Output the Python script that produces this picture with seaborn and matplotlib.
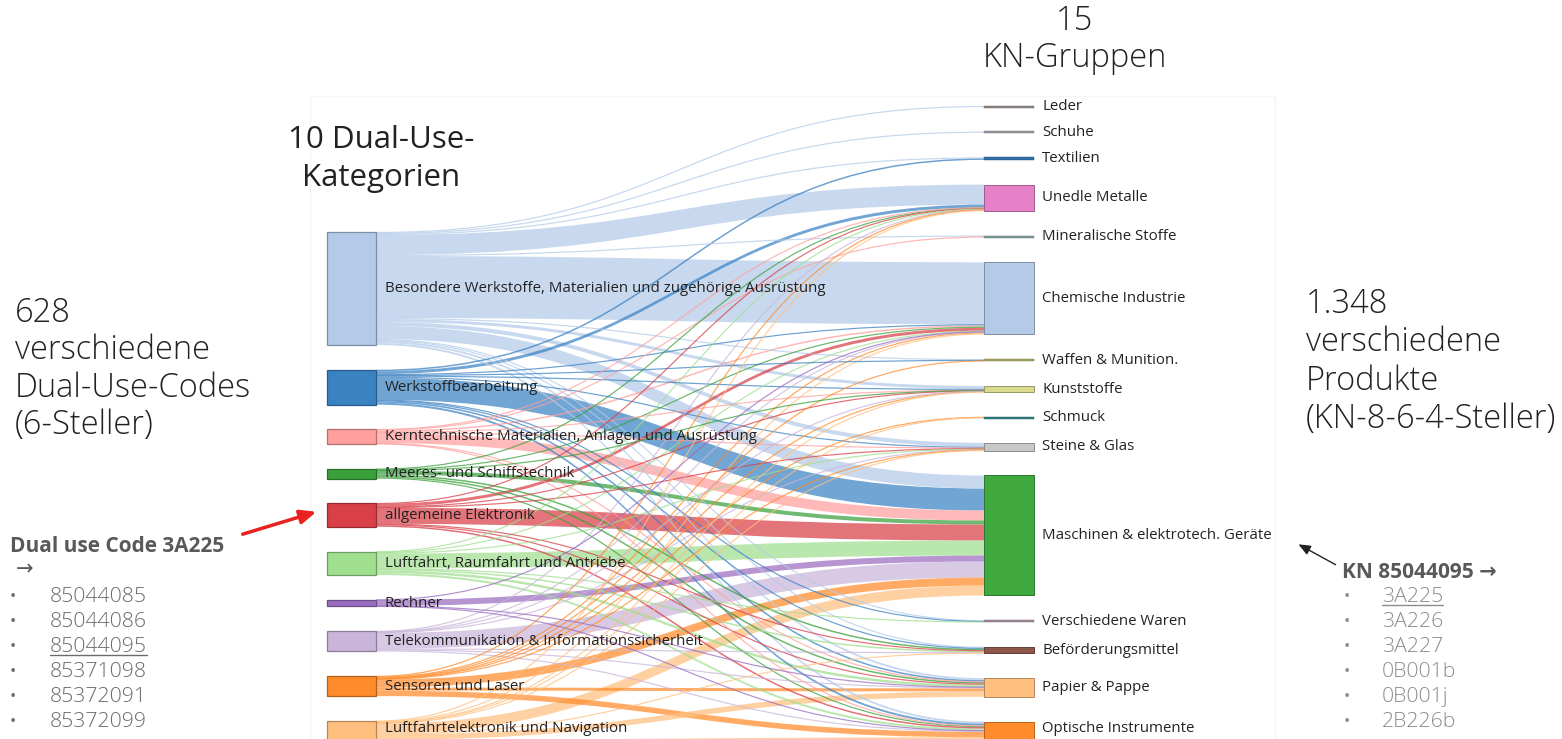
import numpy as np
import matplotlib
matplotlib.use("Agg")
import matplotlib.pyplot as plt
from matplotlib.path import Path
from matplotlib.patches import PathPatch, Rectangle
import seaborn as sns

# ---------------- data ----------------
sources = ["Besondere Werkstoffe, Materialien und zugehörige Ausrüstung",
           "Werkstoffbearbeitung",
           "Kerntechnische Materialien, Anlagen und Ausrüstung",
           "Meeres- und Schiffstechnik",
           "allgemeine Elektronik",
           "Luftfahrt, Raumfahrt und Antriebe",
           "Rechner",
           "Telekommunikation & Informationssicherheit",
           "Sensoren und Laser",
           "Luftfahrtelektronik und Navigation"]

targets = ["Leder", "Schuhe", "Textilien", "Unedle Metalle", "Mineralische Stoffe",
           "Chemische Industrie", "Waffen & Munition.", "Kunststoffe", "Schmuck",
           "Steine & Glas", "Maschinen & elektrotech. Geräte", "Verschiedene Waren",
           "Beförderungsmittel", "Papier & Pappe", "Optische Instrumente"]

# rows = sources, columns = targets (same order as above)
flow_besondere   = [1, 1, 1, 20, 1, 62, 1, 3, 0, 4, 13, 1, 1, 2, 2]
flow_werkstoff   = [0, 0, 1.5, 3, 0, 1, 0.5, 1, 0, 1, 22, 0.5, 1, 1.5, 2]
flow_kern        = [0, 0, 0, 0.25, 1, 1.5, 0, 0.5, 0, 0.5, 10, 0, 0, 0.5, 0.5]
flow_meeres      = [0, 0, 0, 0.5, 0, 1, 0, 0.25, 0, 0, 4, 0, 1.5, 1.5, 1]
flow_elektronik  = [0, 0, 0, 0.5, 0, 3, 0, 0.5, 0, 0.5, 16, 0, 0.5, 1, 1.5]
flow_luftfahrt   = [0, 0, 0, 0.5, 0, 1, 0, 0, 0, 0.5, 15, 0.5, 1.5, 2.5, 2]
flow_rechner     = [0, 0, 0, 0, 0, 0.25, 0, 0, 0, 0, 6, 0, 0, 0.25, 0.25]
flow_telekom     = [0, 0, 0, 0.5, 0, 0.5, 0, 0.25, 0, 0.5, 16, 0, 0.5, 1, 1]
flow_sensoren    = [0, 0, 0, 0.5, 0, 1, 0.5, 0.5, 0.5, 0.5, 8, 0, 0, 3, 5.5]
flow_avionik     = [0, 0, 0, 0.5, 0, 1, 0, 0.5, 0.5, 0.5, 10, 0, 0.5, 5.5, 6]

source_colors = ["#b3cbe9", "#3b82c3", "#ff9f9e", "#3aa03a", "#d83f47",
                 "#9fdf8e", "#9a6cc0", "#c9b5da", "#ff8b2a", "#ffc07f"]
target_colors = ["#8f8585", "#999999", "#2f6ea6", "#e680c8", "#7f9c9c",
                 "#b3cbe9", "#a4a45c", "#dadb8f", "#2c7f80", "#c8c8c8",
                 "#3fa83f", "#a08a9a", "#8c564b", "#ffc07f", "#ff8b2a"]

left_codes = ["85044085", "85044086", "85044095", "85371098", "85372091", "85372099"]
right_codes = ["3A225", "3A226", "3A227", "0B001b", "0B001j", "2B226b"]

# ---------------- setup ----------------
sns.set_theme(style="white")
plt.rcParams["font.family"] = ["Open Sans", "DejaVu Sans"]

flows = np.array([flow_besondere, flow_werkstoff, flow_kern, flow_meeres,
                  flow_elektronik, flow_luftfahrt, flow_rechner, flow_telekom,
                  flow_sensoren, flow_avionik], dtype=float)

fig = plt.figure(figsize=(15.62, 7.39), dpi=100)
ax = fig.add_axes([0, 0, 1, 1])
ax.set_xlim(0, 1562)
ax.set_ylim(739, 0)
ax.axis("off")

# faint screenshot frame
ax.add_patch(Rectangle((310, 96), 965, 700, fill=False, ec="#f6f6f6", lw=1, zorder=0))

GAP = 24.7
LEFT_TOP = 232
RIGHT_TOP = 106
XL0, XL1 = 327, 376
XR0, XR1 = 984, 1034
LABEL_MAX_Y = 729

src_tot = flows.sum(axis=1)
tgt_tot = flows.sum(axis=0)


def layout(tot, top):
    tops = []
    y = top
    for v in tot:
        tops.append(y)
        y += v + GAP
    return np.array(tops)


src_top = layout(src_tot, LEFT_TOP)
tgt_top = layout(tgt_tot, RIGHT_TOP)

# positions of each link inside nodes
src_off = src_top.copy()
sy = np.zeros_like(flows)
for i in range(len(sources)):
    for j in range(len(targets)):
        sy[i, j] = src_off[i]
        src_off[i] += flows[i, j]
tgt_off = tgt_top.copy()
ty = np.zeros_like(flows)
for j in range(len(targets)):
    for i in range(len(sources)):
        ty[i, j] = tgt_off[j]
        tgt_off[j] += flows[i, j]

links = [(flows[i, j], i, j) for i in range(len(sources)) for j in range(len(targets)) if flows[i, j] > 0]
links.sort(key=lambda t: -t[0])

xm = (XL1 + XR0) / 2
for z, (v, i, j) in enumerate(links):
    s0, t0 = sy[i, j], ty[i, j]
    col = source_colors[i]
    if v >= 2:
        s1, t1 = s0 + v, t0 + v
        verts = [(XL1, s0), (xm, s0), (xm, t0), (XR0, t0),
                 (XR0, t1), (xm, t1), (xm, s1), (XL1, s1), (XL1, s0)]
        codes = [Path.MOVETO, Path.CURVE4, Path.CURVE4, Path.CURVE4,
                 Path.LINETO, Path.CURVE4, Path.CURVE4, Path.CURVE4, Path.CLOSEPOLY]
        ax.add_patch(PathPatch(Path(verts, codes), fc=col, ec="none", alpha=0.72, zorder=1 + z * 0.001))
    else:
        sc, tc = s0 + v / 2, t0 + v / 2
        verts = [(XL1, sc), (xm, sc), (xm, tc), (XR0, tc)]
        codes = [Path.MOVETO, Path.CURVE4, Path.CURVE4, Path.CURVE4]
        ax.add_patch(PathPatch(Path(verts, codes), fc="none", ec=col,
                               lw=max(v, 1.2) * 0.72, alpha=0.75, zorder=2 + z * 0.001))


def darker(c, f=0.7):
    r, g, b = matplotlib.colors.to_rgb(c)
    return (r * f, g * f, b * f)


for i, name in enumerate(sources):
    h = src_tot[i]
    ax.add_patch(Rectangle((XL0, src_top[i]), XL1 - XL0, h, fc=source_colors[i],
                           ec=darker(source_colors[i]), lw=0.9, zorder=5))
    ax.text(XL1 + 9, min(src_top[i] + h / 2, LABEL_MAX_Y), name, fontsize=10.8,
            color="#222222", va="center", ha="left", zorder=6)

for j, name in enumerate(targets):
    h = tgt_tot[j]
    hh = max(h, 2.0)
    yc = tgt_top[j] + h / 2
    ax.add_patch(Rectangle((XR0, yc - hh / 2), XR1 - XR0, hh, fc=target_colors[j],
                           ec=darker(target_colors[j]), lw=0.7 if h > 3 else 0.3, zorder=5))
    ax.text(XR1 + 8, min(yc, LABEL_MAX_Y), name, fontsize=10.8, color="#222222",
            va="center", ha="left", zorder=6)

# ---------------- headings ----------------
big = dict(fontsize=23.5, color="#222222", fontweight="light")
ax.text(1075, 21, "15", ha="center", va="center", **big)
ax.text(1075, 58, "KN-Gruppen", ha="center", va="center", **big)
ax.text(381, 140, "10 Dual-Use-", ha="center", va="center", fontsize=22.5, color="#222222")
ax.text(381, 178, "Kategorien", ha="center", va="center", fontsize=22.5, color="#222222")

for k, line in enumerate(["628", "verschiedene", "Dual-Use-Codes", "(6-Steller)"]):
    ax.text(15, 313 + k * 37.5, line, ha="left", va="center", **big)
for k, line in enumerate(["1.348", "verschiedene", "Produkte", "(KN-8-6-4-Steller)"]):
    ax.text(1306, 304 + k * 38.5, line, ha="left", va="center", **big)

# ---------------- code lists ----------------
ax.text(10, 547, "Dual use Code 3A225", ha="left", va="center", fontsize=15,
        fontweight="bold", color="#595959")
ax.text(16, 570, "→", ha="left", va="center", fontsize=15, color="#595959")
left_txt = []
for k, code in enumerate(left_codes):
    y = 597 + k * 25
    ax.text(10, y, "•", ha="left", va="center", fontsize=12, color="#6b6b6b")
    left_txt.append(ax.text(50, y, code, ha="left", va="center", fontsize=15.3,
                            fontweight="light", color="#6b6b6b"))

ax.text(1342, 572, "KN 85044095 →", ha="left", va="center", fontsize=15,
        fontweight="bold", color="#595959")
right_txt = []
for k, code in enumerate(right_codes):
    y = 597 + k * 25
    ax.text(1344, y, "•", ha="left", va="center", fontsize=12, color="#8c8c8c")
    right_txt.append(ax.text(1382, y, code, ha="left", va="center", fontsize=15.3,
                             fontweight="light", color="#8c8c8c"))

# underlines
fig.canvas.draw()
inv = ax.transData.inverted()
for t, col in [(left_txt[2], "#6b6b6b"), (right_txt[0], "#8c8c8c")]:
    bb = t.get_window_extent()
    (x0, y0), (x1, y1) = inv.transform([(bb.x0, bb.y0), (bb.x1, bb.y1)])
    ax.plot([x0, x1], [y0 - 2, y0 - 2], color=col, lw=1)

# arrows
ax.annotate("", xy=(319, 511), xytext=(240, 535),
            arrowprops=dict(arrowstyle="-|>,head_length=0.8,head_width=0.35", color="#e8221e", lw=2.5))
ax.annotate("", xy=(1296, 543), xytext=(1338, 566),
            arrowprops=dict(arrowstyle="-|>,head_length=0.6,head_width=0.25", color="#222222", lw=1))

fig.savefig("out.png", dpi=100)
